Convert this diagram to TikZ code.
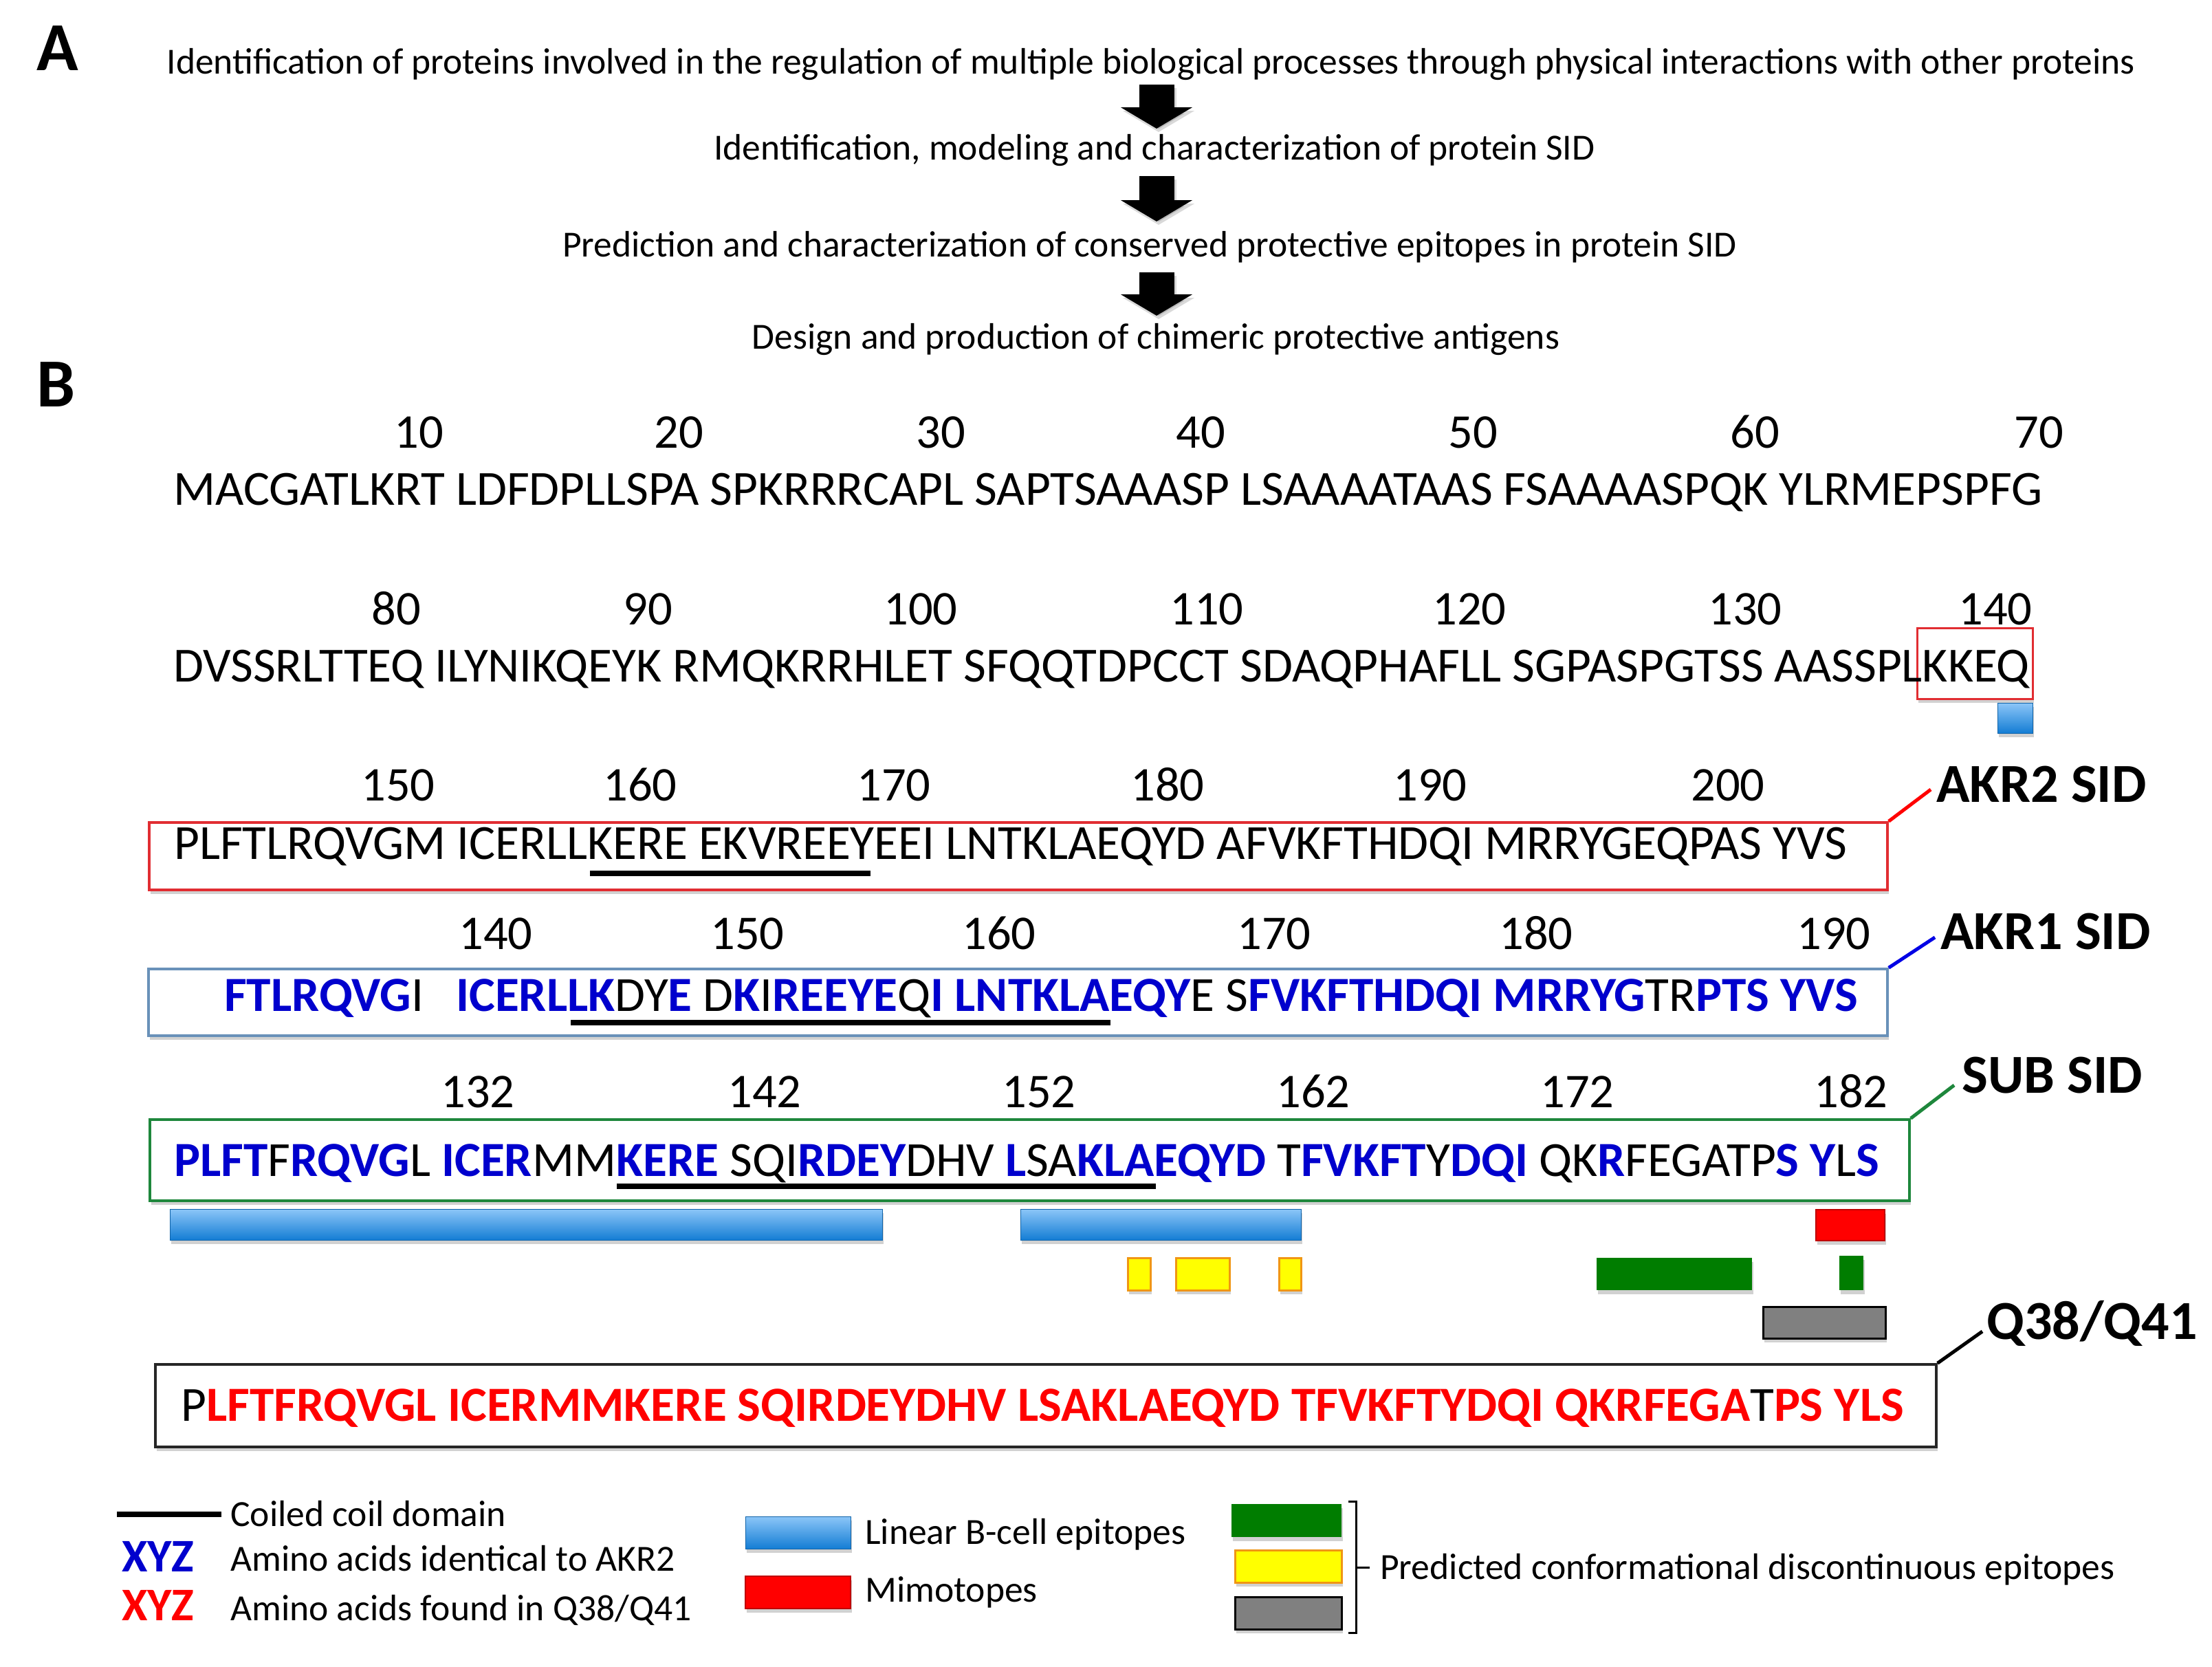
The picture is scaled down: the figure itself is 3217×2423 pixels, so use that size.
\documentclass[tikz,border=0pt]{standalone}
\usepackage{fontspec}
\setmainfont{Carlito}
\usetikzlibrary{calc,arrows.meta,shadows}
\definecolor{seqblue}{RGB}{0,0,205}
\definecolor{seqred}{RGB}{255,0,0}
\definecolor{akrtwo}{RGB}{225,45,50}
\definecolor{akrone}{RGB}{105,145,185}
\definecolor{subgreen}{RGB}{30,135,60}
\definecolor{barhi}{RGB}{140,198,248}
\definecolor{barlo}{RGB}{20,125,212}
\definecolor{epgreen}{RGB}{0,125,0}
\definecolor{epyellow}{RGB}{255,255,0}
\definecolor{eporange}{RGB}{240,150,20}
\definecolor{epgray}{RGB}{128,128,128}
\newcommand\sqblue[1]{{\bfseries\color{seqblue}#1}}
\newcommand\sqred[1]{{\bfseries\color{seqred}#1}}
\newcommand\flowfont{\fontsize{53.5}{60}\selectfont}
\newcommand\seqfont{\fontsize{71.4}{80}\selectfont}
\newcommand\numfont{\fontsize{70.5}{80}\selectfont}
\newcommand\lblfont{\fontsize{80}{90}\selectfont\bfseries}
\newcommand\legfont{\fontsize{53.6}{60}\selectfont}
\newcommand\xyzfont{\fontsize{68}{75}\selectfont\bfseries}
\newcommand\panelfont{\fontsize{100}{110}\selectfont\bfseries}
\begin{document}
\begin{tikzpicture}[x=1pt,y=-1pt,
  flow/.style={anchor=base, inner sep=0pt, font=\flowfont},
  panel/.style={anchor=base west, inner sep=0pt, font=\panelfont},
  seq/.style={anchor=base west, inner sep=0pt, font=\seqfont},
  num/.style={anchor=base, inner sep=0pt, font=\numfont},
  lbl/.style={anchor=base west, inner sep=0pt, font=\lblfont},
  leg/.style={anchor=base west, inner sep=0pt, font=\legfont},
  xyz/.style={anchor=base west, inner sep=0pt, font=\xyzfont},
  blockarrow/.style={line width=51pt, -{Triangle[width=103pt,length=31pt]}, black},
  arrowshadow/.style={line width=51pt, -{Triangle[width=103pt,length=31pt]}, black, opacity=0.15},
  sh/.style={drop shadow={shadow xshift=2pt, shadow yshift=-6pt, opacity=0.18, fill=black}},
  seqbox/.style={draw, line width=3.5pt, fill=white, inner sep=0pt, sh},
  bar/.style={inner sep=0pt, sh},
  bluebar/.style={bar, top color=barhi, bottom color=barlo, draw=barlo!80!black, line width=0.8pt},
  redbar/.style={bar, fill=red, draw=red!75!black, line width=1.5pt},
  yelbar/.style={bar, fill=epyellow, draw=eporange, line width=3pt},
  grnbar/.style={bar, fill=epgreen},
  graybar/.style={bar, fill=epgray, draw=black, line width=3pt},
  ul/.style={line width=8pt, black},
  conn/.style={line width=5pt}
]
\useasboundingbox (0,0) rectangle (3217,2423);
\fill[white] (0,0) rectangle (3217,2423);

% ---------------- Panel A ----------------
\node[panel] (pA) at (53,102) {A};
\node[flow] (s1) at (1674,107) {Identification of proteins involved in the regulation of multiple biological processes through physical interactions with other proteins};
\node[flow] (s2) at (1679,232) {Identification, modeling and characterization of protein SID};
\node[flow] (s3) at (1672,373) {Prediction and characterization of conserved protective epitopes in protein SID};
\node[flow] (s4) at (1681,507) {Design and production of chimeric protective antigens};
\coordinate (a1s) at (1682,123); \coordinate (a1e) at (1682,187);
\coordinate (a2s) at (1682,256); \coordinate (a2e) at (1682,322);
\coordinate (a3s) at (1682,396); \coordinate (a3e) at (1682,459);
\foreach \s/\e in {a1s/a1e,a2s/a2e,a3s/a3e}{
  \draw[arrowshadow] ([xshift=3pt,yshift=-5pt]\s) -- ([xshift=3pt,yshift=-5pt]\e);
  \draw[blockarrow] (\s) -- (\e);
}

% ---------------- Panel B ----------------
\node[panel] (pB) at (53,591) {B};

% row 1
\foreach \x/\n in {609/10,987/20,1368/30,1746/40,2142/50,2552/60,2965/70}
  \node[num] (ra\n) at (\x,651) {\n};
\node[seq] (row1) at (252,734) {MACGATLKRT LDFDPLLSPA SPKRRRCAPL SAPTSAAASP LSAAAATAAS FSAAAASPQK YLRMEPSPFG};

% row 2
\foreach \x/\n in {576/80,942/90,1339/100,1755/110,2137/120,2538/130,2902/140}
  \node[num] (rb\n) at (\x,908) {\n};
\node[draw=akrtwo, line width=3pt, inner sep=0pt, minimum width=168pt, minimum height=103pt, sh, fill=white] (kbox) at (2872,964.5) {};
\node[seq] (row2) at (252,991) {DVSSRLTTEQ ILYNIKQEYK RMQKRRHLET SFQQTDPCCT SDAQPHAFLL SGPASPGTSS AASSPLKKEQ};
\node[bluebar, minimum width=51pt, minimum height=44pt] (kbar) at (2930.5,1044) {};

% AKR2 SID
\node[seqbox, draw=akrtwo, minimum width=2528pt, minimum height=98pt] (akr2box) at (1481,1245) {};
\foreach \x/\n in {579/150,931/160,1300/170,1698/180,2080/190,2513/200}
  \node[num] (rc\n) at (\x,1164) {\n};
\node[seq] (akr2) at (253,1249) {PLFTLRQVGM ICERLLKERE EKVREEYEEI LNTKLAEQYD AFVKFTHDQI MRRYGEQPAS YVS};
\draw[ul] (858,1270) -- (1266,1270);
\node[lbl] (akr2lbl) at (2816,1166) {AKR2 SID};
\draw[conn, red] (akr2box.north east) -- ([xshift=-8pt,yshift=18pt]akr2lbl.base west);

% AKR1 SID
\node[seqbox, draw=akrone, minimum width=2529pt, minimum height=97pt] (akr1box) at (1480.5,1457.5) {};
\foreach \x/\n in {721/140,1087/150,1453/160,1853/170,2234/180,2667/190}
  \node[num] (rd\n) at (\x,1380) {\n};
\node[seq] (akr1a) at (326,1470) {\sqblue{FTLRQVG}I};
\node[seq] (akr1b) at (663,1470) {\sqblue{ICERLLK}DY\sqblue{E} D\sqblue{K}I\sqblue{REEYE}Q\sqblue{I} \sqblue{LNTKLAEQY}E S\sqblue{FVKFTHDQI} \sqblue{MRRYG}TR\sqblue{PTS} \sqblue{YVS}};
\draw[ul] (830,1487) -- (1615,1487);
\node[lbl] (akr1lbl) at (2822,1380) {AKR1 SID};
\draw[conn, blue!90!black] (akr1box.north east) -- ([xshift=-8pt,yshift=17pt]akr1lbl.base west);

% SUB SID
\node[seqbox, draw=subgreen, minimum width=2559pt, minimum height=118pt] (subbox) at (1497.5,1687) {};
\foreach \x/\n in {695/132,1112/142,1511/152,1910/162,2294/172,2692/182}
  \node[num] (re\n) at (\x,1610) {\n};
\node[seq] (sub) at (253,1710) {\sqblue{PLFT}F\sqblue{RQVG}L \sqblue{ICER}MM\sqblue{KERE} SQI\sqblue{RDEY}DHV \sqblue{L}SA\sqblue{KLAEQYD} T\sqblue{FVKFT}Y\sqblue{DQI} QK\sqblue{R}FEGATP\sqblue{S} \sqblue{Y}L\sqblue{S}};
\draw[ul] (897,1725) -- (1681,1725);
\node[lbl] (sublbl) at (2853,1589) {SUB SID};
\draw[conn, subgreen] (subbox.north east) -- ([xshift=-11pt,yshift=11pt]sublbl.base west);

% epitope bars
\node[bluebar, minimum width=1036pt, minimum height=45pt] (lb1) at (765,1780.5) {};
\node[bluebar, minimum width=408pt, minimum height=45pt] (lb2) at (1688,1780.5) {};
\node[redbar, minimum width=100pt, minimum height=45pt] (mim) at (2691,1781.5) {};
\node[yelbar, minimum width=33pt, minimum height=47pt] (y1) at (1656.5,1852.5) {};
\node[yelbar, minimum width=78pt, minimum height=47pt] (y2) at (1749,1852.5) {};
\node[yelbar, minimum width=32pt, minimum height=47pt] (y3) at (1876,1852.5) {};
\node[grnbar, minimum width=226pt, minimum height=47pt] (g1) at (2435,1852.5) {};
\node[grnbar, minimum width=35pt, minimum height=50pt] (g2) at (2692.5,1851) {};
\node[graybar, minimum width=178pt, minimum height=46pt] (gr1) at (2653,1923) {};

% Q38/Q41
\node[seqbox, draw=black!85, minimum width=2590pt, minimum height=120pt] (qbox) at (1521,2044) {};
\node[seq] (qseq) at (263,2066) {P\sqred{LFTFRQVGL ICERMMKERE SQIRDEYDHV LSAKLAEQYD TFVKFTYDQI QKRFEGA}T\sqred{PS YLS}};
\node[lbl] (qlbl) at (2889,1947) {Q38/Q41};
\draw[conn, black] (qbox.north east) -- ([xshift=-6pt,yshift=11pt]qlbl.base west);

% ---------------- Legend ----------------
\draw[ul] (170,2202) -- (322,2202);
\node[leg] (lg1) at (335,2219) {Coiled coil domain};
\node[xyz, text=seqblue] (xyzb) at (177,2285) {XYZ};
\node[leg] (lg2) at (335,2284) {Amino acids identical to AKR2};
\node[xyz, text=seqred] (xyzr) at (177,2356) {XYZ};
\node[leg] (lg3) at (335,2356) {Amino acids found in Q38/Q41};

\node[bluebar, minimum width=153pt, minimum height=47pt] (lgb) at (1160.5,2228.5) {};
\node[leg] (lg4) at (1258,2245) {Linear B-cell epitopes};
\node[redbar, minimum width=153pt, minimum height=47pt] (lgr) at (1160.5,2315.5) {};
\node[leg] (lg5) at (1258,2329) {Mimotopes};

\node[grnbar, minimum width=160pt, minimum height=48pt] (lgg) at (1871,2211) {};
\node[yelbar, minimum width=155pt, minimum height=47pt] (lgy) at (1873.5,2277.5) {};
\node[graybar, minimum width=155pt, minimum height=47pt] (lggr) at (1873.5,2345.5) {};
\draw[line width=3pt] (1961,2183) -- (1972,2183) -- (1972,2374) -- (1961,2374);
\node[leg] (lg6) at (2007,2296) {Predicted conformational discontinuous epitopes};
\draw[line width=3pt] (1972,2279) -- ([xshift=-15pt]lg6.west |- 0,2279);
\end{tikzpicture}
\end{document}
